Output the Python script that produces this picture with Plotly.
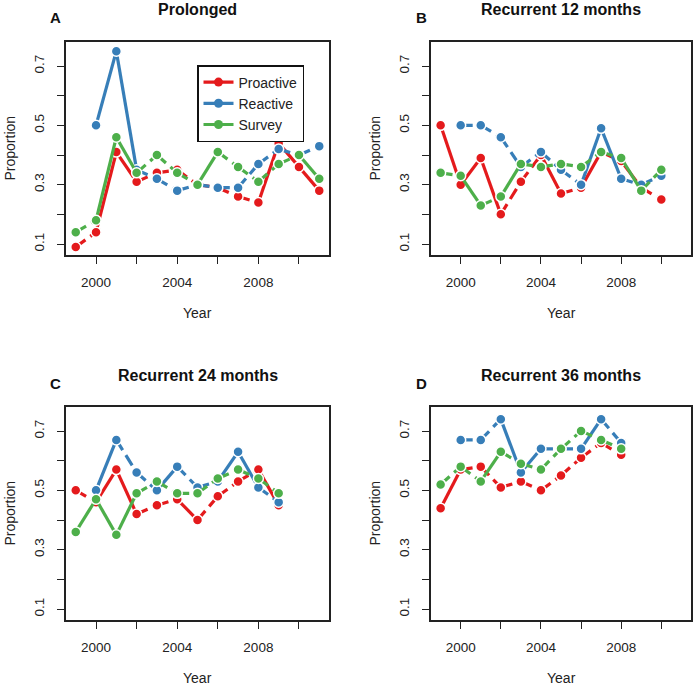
import plotly.graph_objects as go

# years on the x axis, one list per panel
years_a = [1999, 2000, 2001, 2002, 2003, 2004, 2005, 2006, 2007, 2008, 2009, 2010, 2011]
years_b = [1999, 2000, 2001, 2002, 2003, 2004, 2005, 2006, 2007, 2008, 2009, 2010]
years_c = [1999, 2000, 2001, 2002, 2003, 2004, 2005, 2006, 2007, 2008, 2009]
years_d = [1999, 2000, 2001, 2002, 2003, 2004, 2005, 2006, 2007, 2008]

# A: Prolonged
prolonged_proactive = [0.09, 0.14, 0.41, 0.31, 0.34, 0.35, 0.30, 0.29, 0.26, 0.24, 0.44, 0.36, 0.28]
prolonged_reactive = [None, 0.50, 0.75, 0.35, 0.32, 0.28, 0.30, 0.29, 0.29, 0.37, 0.42, 0.40, 0.43]
prolonged_survey = [0.14, 0.18, 0.46, 0.34, 0.40, 0.34, 0.30, 0.41, 0.36, 0.31, 0.37, 0.40, 0.32]

# B: Recurrent 12 months
rec12_proactive = [0.50, 0.30, 0.39, 0.20, 0.31, 0.40, 0.27, 0.29, 0.41, 0.38, 0.29, 0.25]
rec12_reactive = [None, 0.50, 0.50, 0.46, 0.36, 0.41, 0.35, 0.30, 0.49, 0.32, 0.30, 0.33]
rec12_survey = [0.34, 0.33, 0.23, 0.26, 0.37, 0.36, 0.37, 0.36, 0.41, 0.39, 0.28, 0.35]

# C: Recurrent 24 months
rec24_proactive = [0.50, 0.46, 0.57, 0.42, 0.45, 0.47, 0.40, 0.48, 0.53, 0.57, 0.45]
rec24_reactive = [None, 0.50, 0.67, 0.56, 0.50, 0.58, 0.51, 0.53, 0.63, 0.51, 0.46]
rec24_survey = [0.36, 0.47, 0.35, 0.49, 0.53, 0.49, 0.49, 0.54, 0.57, 0.54, 0.49]

# D: Recurrent 36 months
rec36_proactive = [0.44, 0.57, 0.58, 0.51, 0.53, 0.50, 0.55, 0.61, 0.66, 0.62]
rec36_reactive = [None, 0.67, 0.67, 0.74, 0.56, 0.64, 0.64, 0.64, 0.74, 0.66]
rec36_survey = [0.52, 0.58, 0.53, 0.63, 0.59, 0.57, 0.64, 0.70, 0.67, 0.64]

# line type of each segment year[k] -> year[k+1]: s = solid, d = dashed
styles_a = {"Proactive": "dssddddddsss", "Reactive": "dssddddddddd", "Survey": "dssdddsdddds"}
styles_b = {"Proactive": "sssddsdsdsd", "Reactive": "dddddddssdd", "Survey": "dsdsdddddsd"}
styles_c = {"Proactive": "dssddsddds", "Reactive": "dsddsddssd", "Survey": "sssddddddd"}
styles_d = {"Proactive": "sdddddddd", "Reactive": "dddssddsd", "Survey": "ddsdddddd"}

series_names = ["Proactive", "Reactive", "Survey"]
colors = {"Proactive": "#E41A1C", "Reactive": "#377EB8", "Survey": "#4DAF4A"}

panels = [
    ("A", "Prolonged", years_a, [prolonged_proactive, prolonged_reactive, prolonged_survey], styles_a),
    ("B", "Recurrent 12 months", years_b, [rec12_proactive, rec12_reactive, rec12_survey], styles_b),
    ("C", "Recurrent 24 months", years_c, [rec24_proactive, rec24_reactive, rec24_survey], styles_c),
    ("D", "Recurrent 36 months", years_d, [rec36_proactive, rec36_reactive, rec36_survey], styles_d),
]

W, H = 697, 687
# plot boxes in pixels (left, right, top, bottom)
boxes = [(66, 329, 42, 255), (431, 691, 42, 255), (66, 329, 407, 620), (431, 691, 407, 620)]


def px(xpix):
    return xpix / W


def py(ypix):
    return 1 - ypix / H


FONT = "Liberation Sans, Arial, Helvetica, sans-serif"
DASH = "12px,6px"

fig = go.Figure()
layout_axes = {}
annotations = []

for i, (letter, title, yrs, vals, styles) in enumerate(panels):
    n = i + 1
    xa = "x" if n == 1 else "x%d" % n
    ya = "y" if n == 1 else "y%d" % n
    l, r, t, b = boxes[i]

    for name, v in zip(series_names, vals):
        st = styles[name]
        solid_x, solid_y, dash_x, dash_y = [], [], [], []
        for k in range(len(yrs) - 1):
            if v[k] is None or v[k + 1] is None:
                continue
            if st[k] == "s":
                solid_x += [yrs[k], yrs[k + 1], None]
                solid_y += [v[k], v[k + 1], None]
            else:
                dash_x += [yrs[k], yrs[k + 1], None]
                dash_y += [v[k], v[k + 1], None]
        c = colors[name]
        fig.add_trace(go.Scatter(x=dash_x, y=dash_y, mode="lines", xaxis=xa, yaxis=ya,
                                 line=dict(color=c, width=3.2, dash=DASH), showlegend=False,
                                 hoverinfo="skip"))
        fig.add_trace(go.Scatter(x=solid_x, y=solid_y, mode="lines", xaxis=xa, yaxis=ya,
                                 line=dict(color=c, width=3.2), showlegend=False,
                                 hoverinfo="skip"))
        fig.add_trace(go.Scatter(x=yrs, y=v, mode="markers", xaxis=xa, yaxis=ya, name=name,
                                 marker=dict(color=c, size=10, line=dict(color="white", width=1.5)),
                                 showlegend=False))
        if n == 1:
            # legend entry
            fig.add_trace(go.Scatter(x=[None], y=[None], mode="lines+markers", name=name,
                                     xaxis=xa, yaxis=ya,
                                     line=dict(color=c, width=3.2),
                                     marker=dict(color=c, size=9), showlegend=True))

    xkey = "xaxis" if n == 1 else "xaxis%d" % n
    ykey = "yaxis" if n == 1 else "yaxis%d" % n
    layout_axes[xkey] = dict(
        domain=[px(l), px(r)], anchor=ya, range=[1998.52, 2011.48],
        tickvals=[2000, 2002, 2004, 2006, 2008, 2010],
        ticktext=["2000", "", "2004", "", "2008", ""],
        ticks="outside", ticklen=7, tickwidth=1.2, tickcolor="#222",
        showline=True, linecolor="#222", linewidth=1.6, mirror=True,
        showgrid=False, zeroline=False, ticklabelstandoff=7,
        tickfont=dict(family=FONT, size=13.5, color="#222"),
    )
    layout_axes[ykey] = dict(
        domain=[py(b), py(t)], anchor=xa, range=[0.063, 0.781],
        tickvals=[0.1, 0.2, 0.3, 0.4, 0.5, 0.6, 0.7],
        ticktext=["0.1", "", "0.3", "", "0.5", "", "0.7"],
        tickangle=-90, ticks="outside", ticklen=7, tickwidth=1.2, tickcolor="#222",
        showline=True, linecolor="#222", linewidth=1.6, mirror=True,
        showgrid=False, zeroline=False, ticklabelstandoff=8,
        tickfont=dict(family=FONT, size=13.5, color="#222"),
    )

    cx = (l + r) / 2
    annotations.append(dict(text="<b>%s</b>" % title, x=px(cx), y=py(t - 32),
                            xref="paper", yref="paper", showarrow=False,
                            xanchor="center", yanchor="middle",
                            font=dict(family=FONT, size=16, color="#111")))
    annotations.append(dict(text="<b>%s</b>" % letter, x=px(l - 10), y=py(t - 24),
                            xref="paper", yref="paper", showarrow=False,
                            xanchor="center", yanchor="middle",
                            font=dict(family=FONT, size=15, color="#111")))
    annotations.append(dict(text="Year", x=px(cx), y=py(b + 58),
                            xref="paper", yref="paper", showarrow=False,
                            xanchor="center", yanchor="middle",
                            font=dict(family=FONT, size=14, color="#222")))
    annotations.append(dict(text="Proportion", x=px(l - 57), y=py((t + b) / 2),
                            xref="paper", yref="paper", showarrow=False, textangle=-90,
                            xanchor="center", yanchor="middle",
                            font=dict(family=FONT, size=14, color="#222")))

fig.update_layout(
    width=W, height=H,
    margin=dict(l=0, r=0, t=0, b=0),
    paper_bgcolor="white", plot_bgcolor="white",
    showlegend=True,
    legend=dict(x=px(197), y=py(65), xanchor="left", yanchor="top",
                bordercolor="#111", borderwidth=1.5, bgcolor="white",
                font=dict(family=FONT, size=14, color="#222"),
                tracegroupgap=0, itemwidth=30),
    annotations=annotations,
    **layout_axes,
)

# drop the default page margin so the figure sits at the window's corner
fig.write_html("out.html", config={"displayModeBar": False},
               post_script="document.body.style.margin='0';")
